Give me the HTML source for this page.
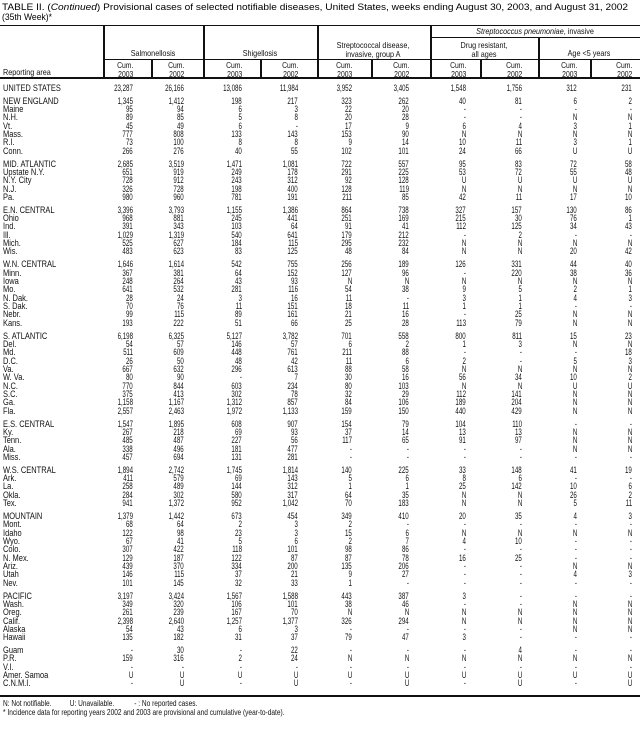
<!DOCTYPE html>
<html><head><meta charset="utf-8"><style>
*{margin:0;padding:0}
body{width:640px;height:750px;background:#fff;position:relative;overflow:hidden;font-family:"Liberation Sans",Arial,sans-serif;color:#111}
.ln{position:absolute;background:#111}
.h{position:absolute;font-size:8.5px;line-height:9px;white-space:nowrap}
.hc{transform:translateX(-50%) scaleX(.85);text-align:center}
.hr{transform:scaleX(.8);transform-origin:right}
#rows{position:absolute;left:0;top:83.8px;width:640px}
.r{position:relative;height:8.35px;font-size:8.8px;line-height:8.35px;white-space:nowrap}
.g{height:4.5px}
.r b{font-weight:normal;position:absolute;left:3px;transform:scaleX(.85);transform-origin:left}
.r i{font-style:normal;position:absolute;transform:scaleX(.7);transform-origin:right}
.r i:nth-of-type(1){right:507px}.r i:nth-of-type(2){right:456px}.r i:nth-of-type(3){right:398px}.r i:nth-of-type(4){right:342px}.r i:nth-of-type(5){right:288px}.r i:nth-of-type(6){right:231px}.r i:nth-of-type(7){right:174px}.r i:nth-of-type(8){right:118px}.r i:nth-of-type(9){right:63px}.r i:nth-of-type(10){right:8px}
</style></head><body>
<svg style="position:absolute;left:0;top:0" width="640" height="24"><text x="2" y="10" font-family="Liberation Sans" font-size="9.5" textLength="626" lengthAdjust="spacingAndGlyphs">TABLE II. (<tspan font-style="italic">Continued</tspan>) Provisional cases of selected notifiable diseases, United States, weeks ending August 30, 2003, and August 31, 2002</text><text x="2" y="20" font-family="Liberation Sans" font-size="9.5" textLength="50" lengthAdjust="spacingAndGlyphs">(35th Week)*</text></svg>
<div class="ln" style="left:0;top:24.5px;width:640px;height:1.5px"></div>
<div class="ln" style="left:430px;top:37px;width:210px;height:1px"></div>
<div class="ln" style="left:103px;top:59px;width:537px;height:1px"></div>
<div class="ln" style="left:0;top:76.5px;width:640px;height:2px"></div>
<div class="ln" style="left:103px;top:25px;width:1.5px;height:52px"></div>
<div class="ln" style="left:203px;top:25px;width:1.5px;height:52px"></div>
<div class="ln" style="left:317px;top:25px;width:1.5px;height:52px"></div>
<div class="ln" style="left:430px;top:25px;width:1.5px;height:52px"></div>
<div class="ln" style="left:538px;top:37px;width:1.5px;height:40px"></div>
<div class="ln" style="left:151px;top:59px;width:1.5px;height:18px"></div>
<div class="ln" style="left:260px;top:59px;width:1.5px;height:18px"></div>
<div class="ln" style="left:371px;top:59px;width:1.5px;height:18px"></div>
<div class="ln" style="left:480px;top:59px;width:1.5px;height:18px"></div>
<div class="ln" style="left:590px;top:59px;width:1.5px;height:18px"></div>
<div class="h hc" style="left:535px;top:27px"><i>Streptococcus pneumoniae</i>, invasive</div>
<div class="h hc" style="left:153px;top:49px">Salmonellosis</div>
<div class="h hc" style="left:260px;top:49px">Shigellosis</div>
<div class="h hc" style="left:373px;top:41px">Streptococcal disease,<br>invasive, group A</div>
<div class="h hc" style="left:484px;top:41px">Drug resistant,<br>all ages</div>
<div class="h hc" style="left:589px;top:49px">Age &lt;5 years</div>
<div class="h" style="left:3px;top:68px;transform:scaleX(.85);transform-origin:left">Reporting area</div>
<div class="h hr" style="right:507px;top:61px;text-align:right">Cum.<br>2003</div>
<div class="h hr" style="right:456px;top:61px;text-align:right">Cum.<br>2002</div>
<div class="h hr" style="right:398px;top:61px;text-align:right">Cum.<br>2003</div>
<div class="h hr" style="right:342px;top:61px;text-align:right">Cum.<br>2002</div>
<div class="h hr" style="right:288px;top:61px;text-align:right">Cum.<br>2003</div>
<div class="h hr" style="right:231px;top:61px;text-align:right">Cum.<br>2002</div>
<div class="h hr" style="right:174px;top:61px;text-align:right">Cum.<br>2003</div>
<div class="h hr" style="right:118px;top:61px;text-align:right">Cum.<br>2002</div>
<div class="h hr" style="right:63px;top:61px;text-align:right">Cum.<br>2003</div>
<div class="h hr" style="right:8px;top:61px;text-align:right">Cum.<br>2002</div>
<div id="rows">
<div class="r"><b>UNITED STATES</b><i>23,287</i><i>26,166</i><i>13,086</i><i>11,984</i><i>3,952</i><i>3,405</i><i>1,548</i><i>1,756</i><i>312</i><i>231</i></div>
<div class="g"></div>
<div class="r"><b>NEW ENGLAND</b><i>1,345</i><i>1,412</i><i>198</i><i>217</i><i>323</i><i>262</i><i>40</i><i>81</i><i>6</i><i>2</i></div>
<div class="r"><b>Maine</b><i>95</i><i>94</i><i>6</i><i>3</i><i>22</i><i>20</i><i>-</i><i>-</i><i>-</i><i>-</i></div>
<div class="r"><b>N.H.</b><i>89</i><i>85</i><i>5</i><i>8</i><i>20</i><i>28</i><i>-</i><i>-</i><i>N</i><i>N</i></div>
<div class="r"><b>Vt.</b><i>45</i><i>49</i><i>6</i><i>-</i><i>17</i><i>9</i><i>6</i><i>4</i><i>3</i><i>1</i></div>
<div class="r"><b>Mass.</b><i>777</i><i>808</i><i>133</i><i>143</i><i>153</i><i>90</i><i>N</i><i>N</i><i>N</i><i>N</i></div>
<div class="r"><b>R.I.</b><i>73</i><i>100</i><i>8</i><i>8</i><i>9</i><i>14</i><i>10</i><i>11</i><i>3</i><i>1</i></div>
<div class="r"><b>Conn.</b><i>266</i><i>276</i><i>40</i><i>55</i><i>102</i><i>101</i><i>24</i><i>66</i><i>U</i><i>U</i></div>
<div class="g"></div>
<div class="r"><b>MID. ATLANTIC</b><i>2,685</i><i>3,519</i><i>1,471</i><i>1,081</i><i>722</i><i>557</i><i>95</i><i>83</i><i>72</i><i>58</i></div>
<div class="r"><b>Upstate N.Y.</b><i>651</i><i>919</i><i>249</i><i>178</i><i>291</i><i>225</i><i>53</i><i>72</i><i>55</i><i>48</i></div>
<div class="r"><b>N.Y. City</b><i>728</i><i>912</i><i>243</i><i>312</i><i>92</i><i>128</i><i>U</i><i>U</i><i>U</i><i>U</i></div>
<div class="r"><b>N.J.</b><i>326</i><i>728</i><i>198</i><i>400</i><i>128</i><i>119</i><i>N</i><i>N</i><i>N</i><i>N</i></div>
<div class="r"><b>Pa.</b><i>980</i><i>960</i><i>781</i><i>191</i><i>211</i><i>85</i><i>42</i><i>11</i><i>17</i><i>10</i></div>
<div class="g"></div>
<div class="r"><b>E.N. CENTRAL</b><i>3,396</i><i>3,793</i><i>1,155</i><i>1,386</i><i>864</i><i>738</i><i>327</i><i>157</i><i>130</i><i>86</i></div>
<div class="r"><b>Ohio</b><i>968</i><i>881</i><i>245</i><i>441</i><i>251</i><i>169</i><i>215</i><i>30</i><i>76</i><i>1</i></div>
<div class="r"><b>Ind.</b><i>391</i><i>343</i><i>103</i><i>64</i><i>91</i><i>41</i><i>112</i><i>125</i><i>34</i><i>43</i></div>
<div class="r"><b>Ill.</b><i>1,029</i><i>1,319</i><i>540</i><i>641</i><i>179</i><i>212</i><i>-</i><i>2</i><i>-</i><i>-</i></div>
<div class="r"><b>Mich.</b><i>525</i><i>627</i><i>184</i><i>115</i><i>295</i><i>232</i><i>N</i><i>N</i><i>N</i><i>N</i></div>
<div class="r"><b>Wis.</b><i>483</i><i>623</i><i>83</i><i>125</i><i>48</i><i>84</i><i>N</i><i>N</i><i>20</i><i>42</i></div>
<div class="g"></div>
<div class="r"><b>W.N. CENTRAL</b><i>1,646</i><i>1,614</i><i>542</i><i>755</i><i>256</i><i>189</i><i>126</i><i>331</i><i>44</i><i>40</i></div>
<div class="r"><b>Minn.</b><i>367</i><i>381</i><i>64</i><i>152</i><i>127</i><i>96</i><i>-</i><i>220</i><i>38</i><i>36</i></div>
<div class="r"><b>Iowa</b><i>248</i><i>264</i><i>43</i><i>93</i><i>N</i><i>N</i><i>N</i><i>N</i><i>N</i><i>N</i></div>
<div class="r"><b>Mo.</b><i>641</i><i>532</i><i>281</i><i>116</i><i>54</i><i>38</i><i>9</i><i>5</i><i>2</i><i>1</i></div>
<div class="r"><b>N. Dak.</b><i>28</i><i>24</i><i>3</i><i>16</i><i>11</i><i>-</i><i>3</i><i>1</i><i>4</i><i>3</i></div>
<div class="r"><b>S. Dak.</b><i>70</i><i>76</i><i>11</i><i>151</i><i>18</i><i>11</i><i>1</i><i>1</i><i>-</i><i>-</i></div>
<div class="r"><b>Nebr.</b><i>99</i><i>115</i><i>89</i><i>161</i><i>21</i><i>16</i><i>-</i><i>25</i><i>N</i><i>N</i></div>
<div class="r"><b>Kans.</b><i>193</i><i>222</i><i>51</i><i>66</i><i>25</i><i>28</i><i>113</i><i>79</i><i>N</i><i>N</i></div>
<div class="g"></div>
<div class="r"><b>S. ATLANTIC</b><i>6,198</i><i>6,325</i><i>5,127</i><i>3,782</i><i>701</i><i>558</i><i>800</i><i>811</i><i>15</i><i>23</i></div>
<div class="r"><b>Del.</b><i>54</i><i>57</i><i>146</i><i>57</i><i>6</i><i>2</i><i>1</i><i>3</i><i>N</i><i>N</i></div>
<div class="r"><b>Md.</b><i>511</i><i>609</i><i>448</i><i>761</i><i>211</i><i>88</i><i>-</i><i>-</i><i>-</i><i>18</i></div>
<div class="r"><b>D.C.</b><i>26</i><i>50</i><i>48</i><i>42</i><i>11</i><i>6</i><i>2</i><i>-</i><i>5</i><i>3</i></div>
<div class="r"><b>Va.</b><i>667</i><i>632</i><i>296</i><i>613</i><i>88</i><i>58</i><i>N</i><i>N</i><i>N</i><i>N</i></div>
<div class="r"><b>W. Va.</b><i>80</i><i>90</i><i>-</i><i>7</i><i>30</i><i>16</i><i>56</i><i>34</i><i>10</i><i>2</i></div>
<div class="r"><b>N.C.</b><i>770</i><i>844</i><i>603</i><i>234</i><i>80</i><i>103</i><i>N</i><i>N</i><i>U</i><i>U</i></div>
<div class="r"><b>S.C.</b><i>375</i><i>413</i><i>302</i><i>78</i><i>32</i><i>29</i><i>112</i><i>141</i><i>N</i><i>N</i></div>
<div class="r"><b>Ga.</b><i>1,158</i><i>1,167</i><i>1,312</i><i>857</i><i>84</i><i>106</i><i>189</i><i>204</i><i>N</i><i>N</i></div>
<div class="r"><b>Fla.</b><i>2,557</i><i>2,463</i><i>1,972</i><i>1,133</i><i>159</i><i>150</i><i>440</i><i>429</i><i>N</i><i>N</i></div>
<div class="g"></div>
<div class="r"><b>E.S. CENTRAL</b><i>1,547</i><i>1,895</i><i>608</i><i>907</i><i>154</i><i>79</i><i>104</i><i>110</i><i>-</i><i>-</i></div>
<div class="r"><b>Ky.</b><i>267</i><i>218</i><i>69</i><i>93</i><i>37</i><i>14</i><i>13</i><i>13</i><i>N</i><i>N</i></div>
<div class="r"><b>Tenn.</b><i>485</i><i>487</i><i>227</i><i>56</i><i>117</i><i>65</i><i>91</i><i>97</i><i>N</i><i>N</i></div>
<div class="r"><b>Ala.</b><i>338</i><i>496</i><i>181</i><i>477</i><i>-</i><i>-</i><i>-</i><i>-</i><i>N</i><i>N</i></div>
<div class="r"><b>Miss.</b><i>457</i><i>694</i><i>131</i><i>281</i><i>-</i><i>-</i><i>-</i><i>-</i><i>-</i><i>-</i></div>
<div class="g"></div>
<div class="r"><b>W.S. CENTRAL</b><i>1,894</i><i>2,742</i><i>1,745</i><i>1,814</i><i>140</i><i>225</i><i>33</i><i>148</i><i>41</i><i>19</i></div>
<div class="r"><b>Ark.</b><i>411</i><i>579</i><i>69</i><i>143</i><i>5</i><i>6</i><i>8</i><i>6</i><i>-</i><i>-</i></div>
<div class="r"><b>La.</b><i>258</i><i>489</i><i>144</i><i>312</i><i>1</i><i>1</i><i>25</i><i>142</i><i>10</i><i>6</i></div>
<div class="r"><b>Okla.</b><i>284</i><i>302</i><i>580</i><i>317</i><i>64</i><i>35</i><i>N</i><i>N</i><i>26</i><i>2</i></div>
<div class="r"><b>Tex.</b><i>941</i><i>1,372</i><i>952</i><i>1,042</i><i>70</i><i>183</i><i>N</i><i>N</i><i>5</i><i>11</i></div>
<div class="g"></div>
<div class="r"><b>MOUNTAIN</b><i>1,379</i><i>1,442</i><i>673</i><i>454</i><i>349</i><i>410</i><i>20</i><i>35</i><i>4</i><i>3</i></div>
<div class="r"><b>Mont.</b><i>68</i><i>64</i><i>2</i><i>3</i><i>2</i><i>-</i><i>-</i><i>-</i><i>-</i><i>-</i></div>
<div class="r"><b>Idaho</b><i>122</i><i>98</i><i>23</i><i>3</i><i>15</i><i>6</i><i>N</i><i>N</i><i>N</i><i>N</i></div>
<div class="r"><b>Wyo.</b><i>67</i><i>41</i><i>5</i><i>6</i><i>2</i><i>7</i><i>4</i><i>10</i><i>-</i><i>-</i></div>
<div class="r"><b>Colo.</b><i>307</i><i>422</i><i>118</i><i>101</i><i>98</i><i>86</i><i>-</i><i>-</i><i>-</i><i>-</i></div>
<div class="r"><b>N. Mex.</b><i>129</i><i>187</i><i>122</i><i>87</i><i>87</i><i>78</i><i>16</i><i>25</i><i>-</i><i>-</i></div>
<div class="r"><b>Ariz.</b><i>439</i><i>370</i><i>334</i><i>200</i><i>135</i><i>206</i><i>-</i><i>-</i><i>N</i><i>N</i></div>
<div class="r"><b>Utah</b><i>146</i><i>115</i><i>37</i><i>21</i><i>9</i><i>27</i><i>-</i><i>-</i><i>4</i><i>3</i></div>
<div class="r"><b>Nev.</b><i>101</i><i>145</i><i>32</i><i>33</i><i>1</i><i>-</i><i>-</i><i>-</i><i>-</i><i>-</i></div>
<div class="g"></div>
<div class="r"><b>PACIFIC</b><i>3,197</i><i>3,424</i><i>1,567</i><i>1,588</i><i>443</i><i>387</i><i>3</i><i>-</i><i>-</i><i>-</i></div>
<div class="r"><b>Wash.</b><i>349</i><i>320</i><i>106</i><i>101</i><i>38</i><i>46</i><i>-</i><i>-</i><i>N</i><i>N</i></div>
<div class="r"><b>Oreg.</b><i>261</i><i>239</i><i>167</i><i>70</i><i>N</i><i>N</i><i>N</i><i>N</i><i>N</i><i>N</i></div>
<div class="r"><b>Calif.</b><i>2,398</i><i>2,640</i><i>1,257</i><i>1,377</i><i>326</i><i>294</i><i>N</i><i>N</i><i>N</i><i>N</i></div>
<div class="r"><b>Alaska</b><i>54</i><i>43</i><i>6</i><i>3</i><i>-</i><i>-</i><i>-</i><i>-</i><i>N</i><i>N</i></div>
<div class="r"><b>Hawaii</b><i>135</i><i>182</i><i>31</i><i>37</i><i>79</i><i>47</i><i>3</i><i>-</i><i>-</i><i>-</i></div>
<div class="g"></div>
<div class="r"><b>Guam</b><i>-</i><i>30</i><i>-</i><i>22</i><i>-</i><i>-</i><i>-</i><i>4</i><i>-</i><i>-</i></div>
<div class="r"><b>P.R.</b><i>159</i><i>316</i><i>2</i><i>24</i><i>N</i><i>N</i><i>N</i><i>N</i><i>N</i><i>N</i></div>
<div class="r"><b>V.I.</b><i>-</i><i>-</i><i>-</i><i>-</i><i>-</i><i>-</i><i>-</i><i>-</i><i>-</i><i>-</i></div>
<div class="r"><b>Amer. Samoa</b><i>U</i><i>U</i><i>U</i><i>U</i><i>U</i><i>U</i><i>U</i><i>U</i><i>U</i><i>U</i></div>
<div class="r"><b>C.N.M.I.</b><i>-</i><i>U</i><i>-</i><i>U</i><i>-</i><i>U</i><i>-</i><i>U</i><i>-</i><i>U</i></div>
</div>
<div class="ln" style="left:0;top:695px;width:640px;height:2px"></div>
<div class="h" style="left:3px;top:699px;font-size:8px;transform:scaleX(.82);transform-origin:left">N: Not notifiable.&nbsp;&nbsp;&nbsp;&nbsp;&nbsp;&nbsp;&nbsp;&nbsp;&nbsp;&nbsp;U: Unavailable.&nbsp;&nbsp;&nbsp;&nbsp;&nbsp;&nbsp;&nbsp;&nbsp;&nbsp;&nbsp;&nbsp;- : No reported cases.</div>
<div class="h" style="left:3px;top:708px;font-size:8px;transform:scaleX(.82);transform-origin:left">* Incidence data for reporting years 2002 and 2003 are provisional and cumulative (year-to-date).</div>
</body></html>
